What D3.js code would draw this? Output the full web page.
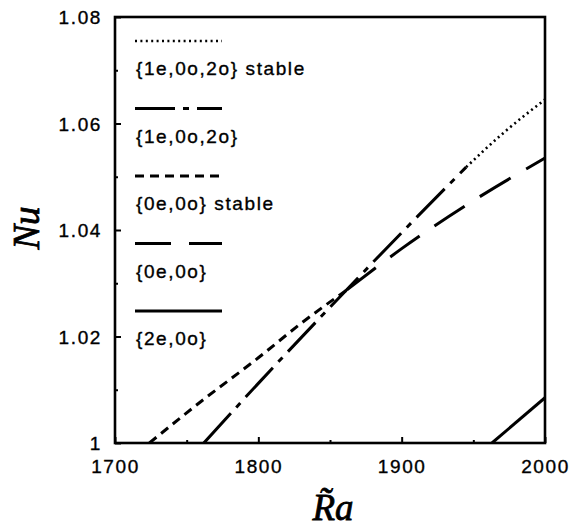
<!DOCTYPE html>
<html>
<head>
<meta charset="utf-8">
<script src="https://cdn.jsdelivr.net/npm/d3@7"></script>
<style>
  body { margin: 0; background: #fff; }
  svg { display: block; }
  .tick text { font-family: "Liberation Sans", Arial, sans-serif; font-size: 19px; letter-spacing: 1.6px; fill: #000; stroke: #000; stroke-width: 0.35px; }
</style>
</head>
<body>
<svg id="chart"></svg>
<script>
// data
const xTicks = [1700, 1800, 1900, 2000];
const xMinor = [1750, 1850, 1950];
const yTicks = [1, 1.02, 1.04, 1.06, 1.08];
const yMinor = [1.01, 1.03, 1.05, 1.07];
const yTickLabels = ["1", "1.02", "1.04", "1.06", "1.08"];

const legendLabels = ["{1e,0o,2o} stable", "{1e,0o,2o}", "{0e,0o} stable", "{0e,0o}", "{2e,0o}"];

const raA = [1945, 1970, 2000];                 // {1e,0o,2o} stable
const nuA = [1.0518, 1.0580, 1.0645];
const raB = [1762, 1800, 1850, 1900, 1945];     // {1e,0o,2o}
const nuB = [1.0, 1.0112, 1.0255, 1.0395, 1.0518];
const raC = [1724, 1760, 1800, 1830, 1862];     // {0e,0o} stable
const nuC = [1.0, 1.0078, 1.016, 1.0225, 1.0288];
const raD = [1862, 1900, 1950, 2000];           // {0e,0o}
const nuD = [1.0288, 1.0365, 1.0455, 1.0535];
const raE = [1963, 2000];                       // {2e,0o}
const nuE = [1.0, 1.0085];

const W = 571, H = 529;
const margin = {top: 17, right: 26, bottom: 86, left: 115};

const svg = d3.select("#chart").attr("width", W).attr("height", H);

const x = d3.scaleLinear().domain([1700, 2000]).range([margin.left, W - margin.right]);
const y = d3.scaleLinear().domain([1, 1.08]).range([H - margin.bottom, margin.top]);

const styles = [
  {dash: "2,3.4", w: 2.6},
  {dash: "40,8,6,8", w: 3},
  {dash: "9,6", w: 3},
  {dash: "36,18", w: 3},
  {dash: null, w: 3}
];
const series = [[raA, nuA], [raB, nuB], [raC, nuC], [raD, nuD], [raE, nuE]];

svg.append("clipPath").attr("id", "clip")
  .append("rect")
  .attr("x", x(1700)).attr("y", y(1.08))
  .attr("width", x(2000) - x(1700)).attr("height", y(1) - y(1.08));

const line = d3.line()
  .x(d => x(d[0]))
  .y(d => y(d[1]))
  .curve(d3.curveMonotoneX);

series.forEach(function(s, i) {
  const pts = s[0].map((r, k) => [r, s[1][k]]);
  svg.append("path")
    .datum(pts)
    .attr("clip-path", "url(#clip)")
    .attr("d", line)
    .attr("fill", "none")
    .attr("stroke", "#000")
    .attr("stroke-width", styles[i].w)
    .attr("stroke-dasharray", styles[i].dash);
});

// axes, ticks point inward
const xAxis = svg.append("g")
  .attr("transform", "translate(0," + y(1) + ")")
  .call(d3.axisBottom(x).tickValues(xTicks).tickFormat(d3.format("d")).tickSize(-6).tickPadding(17));
const xAxisMinor = svg.append("g")
  .attr("transform", "translate(0," + y(1) + ")")
  .call(d3.axisBottom(x).tickValues(xMinor).tickFormat("").tickSize(-3));

const yAxis = svg.append("g")
  .attr("transform", "translate(" + x(1700) + ",0)")
  .call(d3.axisLeft(y).tickValues(yTicks).tickFormat((d, i) => yTickLabels[i]).tickSize(-6).tickPadding(13));
const yAxisMinor = svg.append("g")
  .attr("transform", "translate(" + x(1700) + ",0)")
  .call(d3.axisLeft(y).tickValues(yMinor).tickFormat("").tickSize(-3));

[xAxis, xAxisMinor, yAxis, yAxisMinor].forEach(function(g) {
  g.select(".domain").remove();
  g.selectAll(".tick line").attr("stroke", "#000").attr("stroke-width", 2);
});
yAxis.selectAll(".tick text").attr("dy", "0.36em");

// frame
svg.append("rect")
  .attr("x", x(1700)).attr("y", y(1.08))
  .attr("width", x(2000) - x(1700)).attr("height", y(1) - y(1.08))
  .attr("fill", "none").attr("stroke", "#000").attr("stroke-width", 2.6);

// legend
const lg = svg.append("g");
legendLabels.forEach(function(lab, i) {
  const ly = 41 + i * 67.5;
  lg.append("line")
    .attr("x1", 135).attr("x2", 222).attr("y1", ly).attr("y2", ly)
    .attr("stroke", "#000")
    .attr("stroke-width", styles[i].w)
    .attr("stroke-dasharray", styles[i].dash);
  lg.append("text")
    .attr("x", 136).attr("y", ly + 34)
    .attr("font-family", "Liberation Sans, Arial, sans-serif")
    .attr("font-size", 19)
    .attr("letter-spacing", "1.6px")
    .attr("stroke", "#000")
    .attr("stroke-width", 0.35)
    .text(lab);
});

// axis titles
svg.append("text")
  .attr("transform", "translate(39,228) rotate(-90)")
  .attr("text-anchor", "middle")
  .attr("font-family", "Liberation Serif, Times New Roman, serif")
  .attr("font-style", "italic")
  .attr("font-size", 37)
  .attr("stroke", "#000")
  .attr("stroke-width", 0.8)
  .text("Nu");

svg.append("text")
  .attr("x", 333).attr("y", 520)
  .attr("text-anchor", "middle")
  .attr("font-family", "Liberation Serif, Times New Roman, serif")
  .attr("font-style", "italic")
  .attr("font-size", 37)
  .attr("stroke", "#000")
  .attr("stroke-width", 0.8)
  .text("R\u0303a");
</script>
</body>
</html>
